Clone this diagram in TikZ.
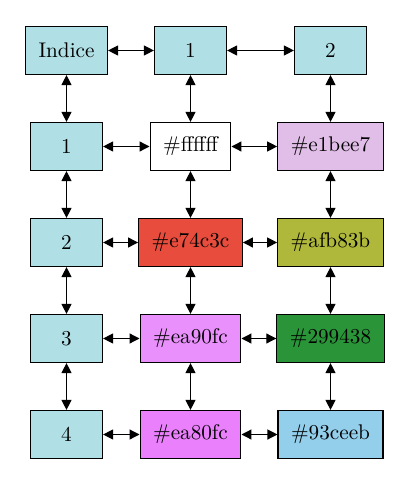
\documentclass[tikz,border=0pt]{standalone}
\usetikzlibrary{arrows.meta}

\definecolor{idxblue}{HTML}{B0E0E6}
\definecolor{cA}{HTML}{E1BEE7}
\definecolor{cB}{HTML}{E74C3C}
\definecolor{cC}{HTML}{AFB83B}
\definecolor{cD}{HTML}{EA90FC}
\definecolor{cE}{HTML}{299438}
\definecolor{cF}{HTML}{EA80FC}
\definecolor{cG}{HTML}{93CEEB}

\begin{document}
\begin{tikzpicture}[x=0.5pt,y=-0.5pt,<->,>={Triangle[length=5pt,width=5pt]},line width=0.6pt,cell/.style={rectangle,draw,minimum width=36pt,minimum height=24pt,inner xsep=6.5pt,font=\fontsize{10.6}{13}\selectfont}]

	\useasboundingbox (0,0) rectangle (413,485);

	%nodes: header row
	\node[cell, fill=idxblue] (Idx) at (66.5,50.5) {Indice};
	\node[cell, fill=idxblue] (H1) at (190.5,50.5) {1};
	\node[cell, fill=idxblue] (H2) at (330.5,50.5) {2};

	%nodes: index column
	\node[cell, fill=idxblue] (R1) at (66.5,146.5) {1};
	\node[cell, fill=idxblue] (R2) at (66.5,242.5) {2};
	\node[cell, fill=idxblue] (R3) at (66.5,338.5) {3};
	\node[cell, fill=idxblue] (R4) at (66.5,434.5) {4};

	%nodes: colour cells
	\node[cell, fill=white] (C11) at (190.5,146.5) {\#ffffff};
	\node[cell, fill=cA] (C12) at (330.5,146.5) {\#e1bee7};
	\node[cell, fill=cB] (C21) at (190.5,242.5) {\#e74c3c};
	\node[cell, fill=cC] (C22) at (330.5,242.5) {\#afb83b};
	\node[cell, fill=cD] (C31) at (190.5,338.5) {\#ea90fc};
	\node[cell, fill=cE] (C32) at (330.5,338.5) {\#299438};
	\node[cell, fill=cF] (C41) at (190.5,434.5) {\#ea80fc};
	\node[cell, fill=cG] (C42) at (330.5,434.5) {\#93ceeb};

	%edges along rows
	\path
		(Idx) edge (H1)
		(H1) edge (H2)
		(R1) edge (C11)
		(C11) edge (C12)
		(R2) edge (C21)
		(C21) edge (C22)
		(R3) edge (C31)
		(C31) edge (C32)
		(R4) edge (C41)
		(C41) edge (C42);

	%edges down columns
	\path
		(Idx) edge (R1)
		(R1) edge (R2)
		(R2) edge (R3)
		(R3) edge (R4)
		(H1) edge (C11)
		(C11) edge (C21)
		(C21) edge (C31)
		(C31) edge (C41)
		(H2) edge (C12)
		(C12) edge (C22)
		(C22) edge (C32)
		(C32) edge (C42);

\end{tikzpicture}
\end{document}
